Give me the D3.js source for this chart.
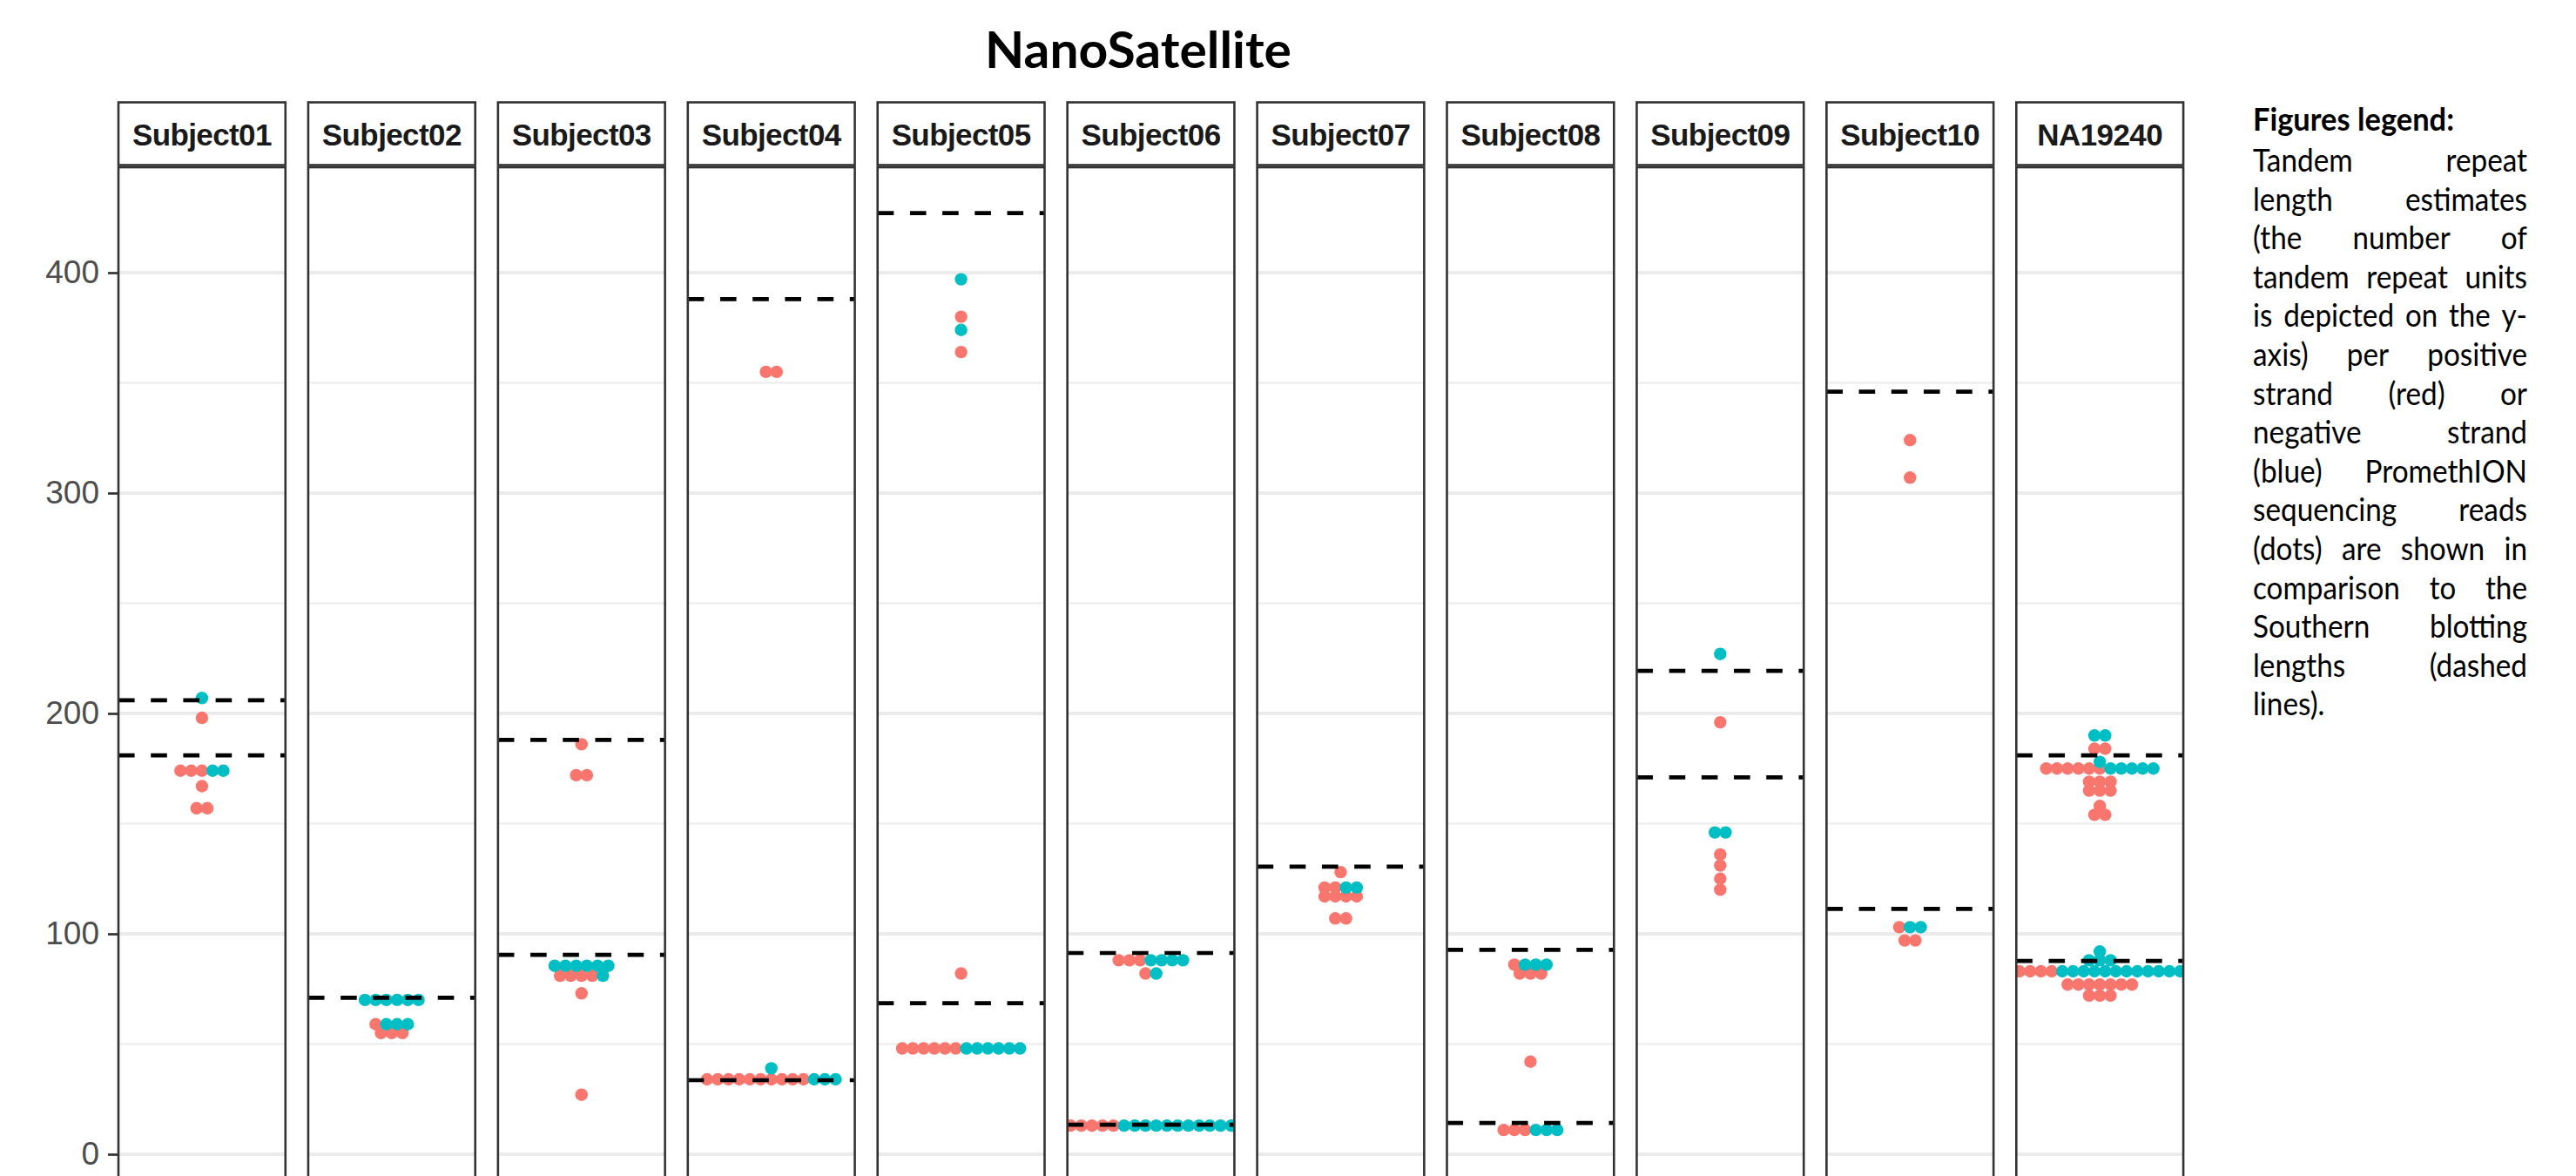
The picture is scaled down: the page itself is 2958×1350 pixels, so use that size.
<!DOCTYPE html>
<html>
<head>
<meta charset="utf-8">
<script src="https://cdn.jsdelivr.net/npm/d3@7"></script>
<style>
  body { margin: 0; background: #fff; }
  svg { display: block; }
</style>
</head>
<body>
<svg id="chart"></svg>
<script>
// facet panels, left to right
var subjects = ['Subject01', 'Subject02', 'Subject03', 'Subject04', 'Subject05', 'Subject06',
  'Subject07', 'Subject08', 'Subject09', 'Subject10', 'NA19240'];

// repeat length estimates per read, positive strand (red)
var posReads = [
  [198, 174, 174, 174, 167, 157, 157],
  [59, 55, 55, 55],
  [186, 172, 172, 81, 81, 81, 81, 73, 27],
  [355, 355, 34, 34, 34, 34, 34, 34, 34, 34, 34, 34],
  [380, 364, 82, 48, 48, 48, 48, 48, 48],
  [88, 88, 88, 82, 13, 13, 13, 13, 13],
  [128, 121, 121, 117, 117, 117, 117, 107, 107],
  [86, 82, 82, 82, 42, 11, 11, 11],
  [196, 136, 131, 125, 120],
  [324, 307, 103, 97, 97],
  [184, 184, 175, 175, 175, 175, 175, 175, 169, 169, 169, 165, 165, 165, 158, 154, 154,
    83, 83, 83, 83, 77, 77, 77, 77, 77, 77, 77, 72, 72, 72]
];

// negative strand (blue)
var negReads = [
  [207, 174, 174],
  [70, 70, 70, 70, 70, 70, 59, 59, 59],
  [85.5, 85.5, 85.5, 85.5, 85.5, 85.5, 81],
  [39, 34, 34, 34],
  [397, 374, 48, 48, 48, 48, 48, 48],
  [88, 88, 88, 88, 82, 13, 13, 13, 13, 13, 13, 13, 13, 13, 13, 13],
  [121, 121],
  [86, 86, 86, 11, 11, 11],
  [227, 146, 146],
  [103, 103],
  [190, 190, 178, 175, 175, 175, 175, 175, 92, 88, 88, 88,
    83, 83, 83, 83, 83, 83, 83, 83, 83, 83, 83, 83]
];

// Southern blotting lengths (dashed lines)
var southern = [
  [206, 181], [71], [188, 90.5], [388, 33.6], [427, 68.5], [91.3, 13.4],
  [130.5], [92.7, 14.2], [219.3, 171], [346, 111.3], [181, 87.7]
];

var majorTicks = [0, 100, 200, 300, 400];
var minorTicks = [50, 150, 250, 350];

var legendTitle = 'Figures legend:';
var legendLines = ['Tandem repeat', 'length estimates', '(the number of', 'tandem repeat units',
  'is depicted on the y-', 'axis) per positive', 'strand (red) or', 'negative strand',
  '(blue) PromethION', 'sequencing reads', '(dots) are shown in', 'comparison to the',
  'Southern blotting', 'lengths (dashed', 'lines).'];

var width = 2958;
var height = 1350;
var colors = { '+': '#F8766D', '-': '#00BFC4' };
var dotStep = 12.3;
var dotRadius = 7.2;
var stripTop = 117.5;
var stripBottom = 189.5;
var panelTop = 192;
var panelBottom = 1390;

var svg = d3.select('#chart')
  .attr('width', width)
  .attr('height', height)
  .style('font-family', '"Liberation Sans", Arial, sans-serif');

svg.append('rect')
  .attr('width', width)
  .attr('height', height)
  .attr('fill', '#fff');

var x = d3.scaleBand()
  .domain(subjects)
  .range([136, 136 + 217.93 * (subjects.length - 0.12)])
  .paddingInner(0.12)
  .paddingOuter(0);

var y = d3.scaleLinear()
  .domain([0, 400])
  .range([1325, 313]);

var offset = d3.scaleLinear()
  .domain([0, 1])
  .range([0, dotStep]);

svg.append('text')
  .attr('x', 1307)
  .attr('y', 78)
  .attr('text-anchor', 'middle')
  .attr('textLength', 352)
  .attr('lengthAdjust', 'spacingAndGlyphs')
  .style('font-family', 'Lato, "Open Sans", sans-serif')
  .style('font-weight', 'bold')
  .style('font-size', '57px')
  .attr('fill', '#000')
  .text('NanoSatellite');

// y axis, drawn once on the left of the first panel
var axis = svg.append('g')
  .attr('transform', 'translate(' + x(subjects[0]) + ',0)')
  .call(d3.axisLeft(y).tickValues(majorTicks).tickSize(12).tickPadding(10).tickFormat(d3.format('d')));
axis.select('.domain').remove();
axis.selectAll('.tick line')
  .attr('stroke', '#333')
  .attr('stroke-width', 2.7);
axis.selectAll('.tick text')
  .attr('fill', '#4d4d4d')
  .style('font-size', '37px')
  .style('font-family', '"Liberation Sans", Arial, sans-serif');

var defs = svg.append('defs');

subjects.forEach(function(name, i) {
  var x0 = x(name);
  var bw = x.bandwidth();
  var cx = x0 + bw / 2;

  defs.append('clipPath')
    .attr('id', 'clip' + i)
    .append('rect')
    .attr('x', x0)
    .attr('y', panelTop)
    .attr('width', bw)
    .attr('height', panelBottom - panelTop);

  var panel = svg.append('g').attr('class', 'panel');

  panel.selectAll('line.minor')
    .data(minorTicks)
    .enter().append('line')
    .attr('class', 'minor')
    .attr('x1', x0).attr('x2', x0 + bw)
    .attr('y1', function(d) { return y(d); })
    .attr('y2', function(d) { return y(d); })
    .attr('stroke', '#ebebeb')
    .attr('stroke-width', 2);

  panel.selectAll('line.major')
    .data(majorTicks)
    .enter().append('line')
    .attr('class', 'major')
    .attr('x1', x0).attr('x2', x0 + bw)
    .attr('y1', function(d) { return y(d); })
    .attr('y2', function(d) { return y(d); })
    .attr('stroke', '#ebebeb')
    .attr('stroke-width', 3.8);

  // stack reads of equal length in a centred row, positive strand first
  var reads = posReads[i].map(function(v) { return { value: v, strand: '+' }; })
    .concat(negReads[i].map(function(v) { return { value: v, strand: '-' }; }));
  var rows = d3.group(reads, function(d) { return d.value; });
  rows.forEach(function(row) {
    row.forEach(function(d, k) {
      d.dx = offset(k - (row.length - 1) / 2);
    });
  });
  reads.sort(function(a, b) { return d3.ascending(a.strand === '-', b.strand === '-'); });

  panel.append('g')
    .attr('clip-path', 'url(#clip' + i + ')')
    .selectAll('circle')
    .data(reads)
    .enter().append('circle')
    .attr('cx', function(d) { return cx + d.dx; })
    .attr('cy', function(d) { return y(d.value); })
    .attr('r', dotRadius)
    .attr('fill', function(d) { return colors[d.strand]; });

  panel.selectAll('line.southern')
    .data(southern[i])
    .enter().append('line')
    .attr('class', 'southern')
    .attr('x1', x0).attr('x2', x0 + bw)
    .attr('y1', function(d) { return y(d); })
    .attr('y2', function(d) { return y(d); })
    .attr('stroke', '#000')
    .attr('stroke-width', 4.7)
    .attr('stroke-dasharray', '18.6 18.6');

  panel.append('rect')
    .attr('x', x0)
    .attr('y', panelTop)
    .attr('width', bw)
    .attr('height', panelBottom - panelTop)
    .attr('fill', 'none')
    .attr('stroke', '#333')
    .attr('stroke-width', 2.6);

  panel.append('rect')
    .attr('x', x0)
    .attr('y', stripTop)
    .attr('width', bw)
    .attr('height', stripBottom - stripTop)
    .attr('fill', '#fff')
    .attr('stroke', '#333')
    .attr('stroke-width', 2.6);

  panel.append('text')
    .attr('x', cx)
    .attr('y', 166.5)
    .attr('text-anchor', 'middle')
    .attr('fill', '#1a1a1a')
    .style('font-weight', 'bold')
    .style('font-size', '35px')
    .style('letter-spacing', '-0.6px')
    .text(name);
});

// justified legend text block on the right; glyphs a little narrowed like the source
var legendX = 2587;
var legendW = 315;
var squeeze = 0.9;
var legend = svg.append('g')
  .style('font-family', 'Lato, "Open Sans", sans-serif')
  .attr('fill', '#000');

legend.append('text')
  .attr('x', legendX)
  .attr('y', 150)
  .attr('textLength', 231)
  .attr('lengthAdjust', 'spacingAndGlyphs')
  .style('font-weight', 'bold')
  .style('font-size', '37px')
  .text(legendTitle);

legendLines.forEach(function(line, i) {
  var words = line.split(' ');
  var t = legend.append('text')
    .attr('y', 197 + i * 44.6)
    .style('font-size', '37px');
  var spans = words.map(function(w) {
    return t.append('tspan').text(w);
  });
  var widths = spans.map(function(s) { return s.node().getComputedTextLength() * squeeze; });
  var minGap = 8;
  var total = d3.sum(widths);
  if (total + minGap * (words.length - 1) > legendW) {
    var f = (legendW - minGap * (words.length - 1)) / total;
    widths = widths.map(function(w) { return w * f; });
    total = d3.sum(widths);
  }
  var last = i === legendLines.length - 1;
  var gap = (words.length > 1 && !last) ? (legendW - total) / (words.length - 1) : 9;
  var pos = legendX;
  spans.forEach(function(s, k) {
    s.attr('x', pos)
      .attr('textLength', widths[k])
      .attr('lengthAdjust', 'spacingAndGlyphs');
    pos += widths[k] + gap;
  });
});
</script>
</body>
</html>
